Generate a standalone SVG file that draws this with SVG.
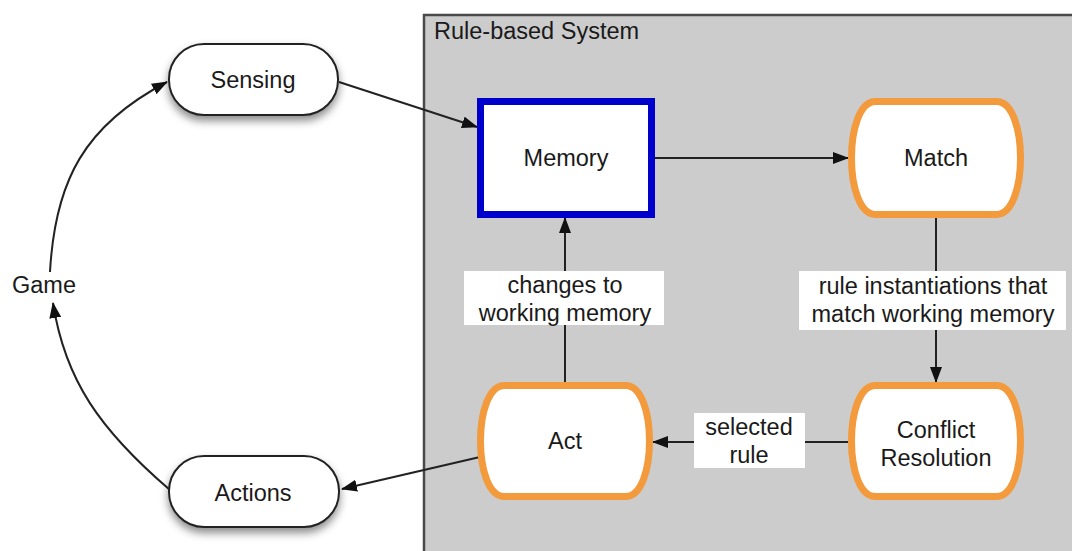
<svg xmlns="http://www.w3.org/2000/svg" width="1072" height="551" viewBox="0 0 1072 551">
<style>
text{font-family:"Liberation Sans",Arial,Helvetica,sans-serif;font-size:23.5px;fill:#1a1a1a;text-anchor:middle}
.term{fill:#fff;stroke:#222;stroke-width:2}
.orange{fill:#fff;stroke:#f39a3d;stroke-width:7}
.conn{fill:none;stroke:#222;stroke-width:2}
.lbl{fill:#fff;stroke:none}
</style>
<defs>
<marker id="arr" markerWidth="16" markerHeight="12" refX="15" refY="6" orient="auto" markerUnits="userSpaceOnUse">
<path d="M0,0 L16,6 L0,12 Z" fill="#111"/>
</marker>
<filter id="sh" x="-20%" y="-20%" width="140%" height="160%">
<feDropShadow dx="0" dy="5" stdDeviation="4" flood-color="#000" flood-opacity="0.45"/>
</filter>
</defs>
<rect width="1072" height="551" fill="#fff"/>
<g id="system">
<rect x="424" y="15" width="700" height="600" fill="#cccccc" stroke="#4a4a4a" stroke-width="2.5"/>
<text x="434" y="39" style="text-anchor:start">Rule-based System</text>
</g>
<g id="connectors">
<line class="conn" x1="339" y1="82" x2="477" y2="127" marker-end="url(#arr)"/>
<line class="conn" x1="655" y1="158" x2="848" y2="158" marker-end="url(#arr)"/>
<line class="conn" x1="936" y1="218" x2="936" y2="382" marker-end="url(#arr)"/>
<line class="conn" x1="848" y1="442" x2="653" y2="442" marker-end="url(#arr)"/>
<line class="conn" x1="565" y1="382" x2="565" y2="218" marker-end="url(#arr)"/>
<line class="conn" x1="480" y1="457" x2="342" y2="489" marker-end="url(#arr)"/>
<path class="conn" d="M170,490 C100,430 65,380 53,303" marker-end="url(#arr)"/>
<path class="conn" d="M50,272 C55,180 85,125 167,82" marker-end="url(#arr)"/>
</g>
<g id="label-changes">
<rect class="lbl" x="464" y="271" width="200" height="54"/>
<text x="565" y="293">changes to</text>
<text x="565" y="321">working memory</text>
</g>
<g id="label-rules">
<rect class="lbl" x="799" y="271" width="267" height="59"/>
<text x="933" y="294">rule instantiations that</text>
<text x="933" y="322">match working memory</text>
</g>
<g id="label-selected">
<rect class="lbl" x="694" y="413" width="111" height="55"/>
<text x="749" y="435">selected</text>
<text x="749" y="463">rule</text>
</g>
<g id="sensing">
<rect class="term" x="169" y="44" width="169" height="71" rx="35" filter="url(#sh)"/>
<text x="253" y="88">Sensing</text>
</g>
<g id="actions">
<rect class="term" x="169" y="456" width="170" height="71" rx="35" filter="url(#sh)"/>
<text x="253" y="501">Actions</text>
</g>
<g id="game">
<text x="44" y="293">Game</text>
</g>
<g id="memory">
<rect x="480.5" y="101.5" width="171" height="113" fill="#fff" stroke="#0000cc" stroke-width="7"/>
<text x="566" y="166">Memory</text>
</g>
<g id="match">
<path class="orange" d="M875.5,101.5 H996.5 C1028.5,101.5 1028.5,214.5 996.5,214.5 H875.5 C843.5,214.5 843.5,101.5 875.5,101.5 Z"/>
<text x="936" y="166">Match</text>
</g>
<g id="conflict">
<path class="orange" d="M875.5,385.5 H996.5 C1028.5,385.5 1028.5,496.5 996.5,496.5 H875.5 C843.5,496.5 843.5,385.5 875.5,385.5 Z"/>
<text x="936" y="438">Conflict</text>
<text x="936" y="466">Resolution</text>
</g>
<g id="act">
<path class="orange" d="M504.5,385.5 H625.5 C657.5,385.5 657.5,496.5 625.5,496.5 H504.5 C472.5,496.5 472.5,385.5 504.5,385.5 Z"/>
<text x="565" y="449">Act</text>
</g>
</svg>
